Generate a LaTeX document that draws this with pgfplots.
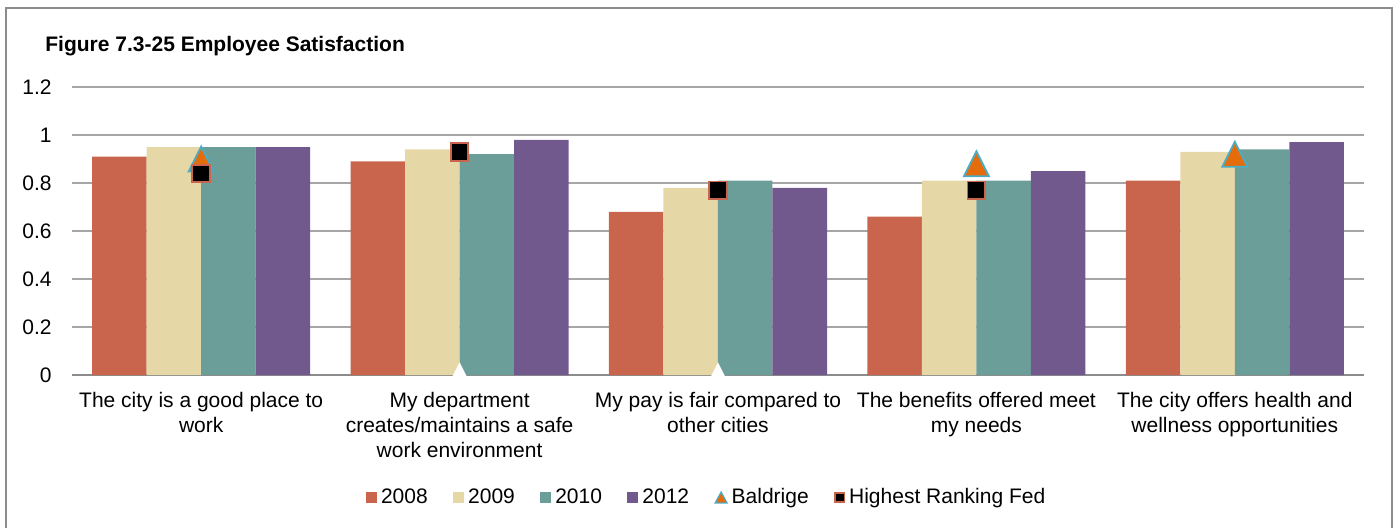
\documentclass[border=0pt]{standalone}
\usepackage{fontspec}
\setmainfont{Liberation Sans}
\usepackage{pgfplots}
\pgfplotsset{compat=1.18}
\definecolor{c2008}{HTML}{C9654D}
\definecolor{c2009}{HTML}{E6D8A6}
\definecolor{c2010}{HTML}{6B9E99}
\definecolor{c2012}{HTML}{72598D}
\definecolor{bor}{HTML}{E46C0A}
\definecolor{bbl}{HTML}{4BACC6}
\definecolor{fed}{HTML}{C9654D}
\definecolor{gridc}{HTML}{A6A6A6}
\definecolor{axc}{HTML}{8C8C8C}
\definecolor{framec}{HTML}{8C8C8C}

\pgfdeclareplotmark{ctri}{%
 \pgfpathmoveto{\pgfqpoint{0pt}{\pgfplotmarksize}}%
 \pgfpathlineto{\pgfqpoint{-\pgfplotmarksize}{-\pgfplotmarksize}}%
 \pgfpathlineto{\pgfqpoint{\pgfplotmarksize}{-\pgfplotmarksize}}%
 \pgfpathclose
 \pgfusepathqfillstroke}

\begin{document}
\begin{tikzpicture}
\useasboundingbox (-36pt,-76pt) rectangle (661pt,187.5pt);
\begin{axis}[
 scale only axis, width=646pt, height=144pt,
 xmin=-0.5, xmax=4.5, ymin=0, ymax=1.2,
 clip=false,
 axis line style={draw=none},
 major tick length=0pt,
 ymajorgrids,
 grid style={draw=gridc, line width=0.9pt},
 ytick={0.2,0.4,0.6,0.8,1,1.2},
 extra y ticks={0},
 extra y tick style={grid style={draw=axc, line width=1.1pt}, major grid style={draw=axc, line width=1.1pt}},
 /pgf/number format/assume math mode=true,
 yticklabel style={font=\fontsize{10.5}{12.5}\selectfont, anchor=east, inner sep=0pt, xshift=-10pt},
 xtick={0,1,2,3,4},
 xticklabels={{The city is a good place to\\work},{My department\\creates/maintains a safe\\work environment},{My pay is fair compared to\\other cities},{The benefits offered meet\\my needs},{The city offers health and\\wellness opportunities}},
 xticklabel style={font=\fontsize{10.5}{12.5}\selectfont, align=center, anchor=north, inner sep=0pt, yshift=-8.4pt},
 legend columns=-1,
 legend style={draw=none, fill=none, inner sep=0pt, outer sep=0pt,
   at={(axis description cs:0.2276,-0.4253)}, anchor=west,
   font=\fontsize{10.5}{12.5}\selectfont, nodes={inner sep=0pt},
   /tikz/every odd column/.append style={column sep=2pt},
   /tikz/every even column/.append style={column sep=12.7pt}},
]
\addplot[ybar, bar width=27.25pt, bar shift=-40.875pt, fill=c2008, draw=none,
  legend image code/.code={\fill[c2008] (0pt,-2.75pt) rectangle (5.5pt,2.75pt);}]
  coordinates {(0,0.91) (1,0.89) (2,0.68) (3,0.66) (4,0.81)};
\addlegendentry{2008}
\addplot[ybar, bar width=27.25pt, bar shift=-13.625pt, fill=c2009, draw=none,
  legend image code/.code={\fill[c2009] (0pt,-2.75pt) rectangle (5.5pt,2.75pt);}]
  coordinates {(0,0.95) (1,0.94) (2,0.78) (3,0.81) (4,0.93)};
\addlegendentry{2009}
\addplot[ybar, bar width=27.25pt, bar shift=13.625pt, fill=c2010, draw=none,
  legend image code/.code={\fill[c2010] (0pt,-2.75pt) rectangle (5.5pt,2.75pt);}]
  coordinates {(0,0.95) (1,0.92) (2,0.81) (3,0.81) (4,0.94)};
\addlegendentry{2010}
\addplot[ybar, bar width=27.25pt, bar shift=40.875pt, fill=c2012, draw=none,
  legend image code/.code={\fill[c2012] (0pt,-2.75pt) rectangle (5.5pt,2.75pt);}]
  coordinates {(0,0.95) (1,0.98) (2,0.78) (3,0.85) (4,0.97)};
\addlegendentry{2012}
\addplot[only marks, forget plot, mark=ctri, mark size=6.25pt, mark options={fill=white, draw=white, line width=0.1pt}]
  coordinates {(1,0) (2,0)};
\addplot[only marks, mark=ctri, mark size=6.25pt, mark options={fill=bor, draw=bbl, line width=0.9pt},
  legend image code/.code={\draw[fill=bor, draw=bbl, line width=0.6pt] (0pt,-2.75pt)--(6pt,-2.75pt)--(3pt,2.75pt)--cycle;}]
  coordinates {(0,0.90) (3,0.88) (4,0.92)};
\addlegendentry{Baldrige}
\addplot[only marks, mark=square*, mark size=4.4pt, mark options={fill=black, draw=fed, line width=0.9pt},
  legend image code/.code={\draw[fill=black, draw=fed, line width=0.8pt] (0.4pt,-2.35pt) rectangle (5.1pt,2.35pt);}]
  coordinates {(0,0.84) (1,0.93) (2,0.77) (3,0.77)};
\addlegendentry{Highest Ranking Fed}
\end{axis}
\draw[framec, line width=1pt] (-33pt,-80pt) -- (-33pt,183.5pt) -- (660pt,183.5pt) -- (660pt,-80pt);
\node[anchor=base west, inner sep=0pt, font=\bfseries\fontsize{10.5}{12.5}\selectfont] at (-13.5pt,162pt) {Figure 7.3-25 Employee Satisfaction};
\end{tikzpicture}
\end{document}
